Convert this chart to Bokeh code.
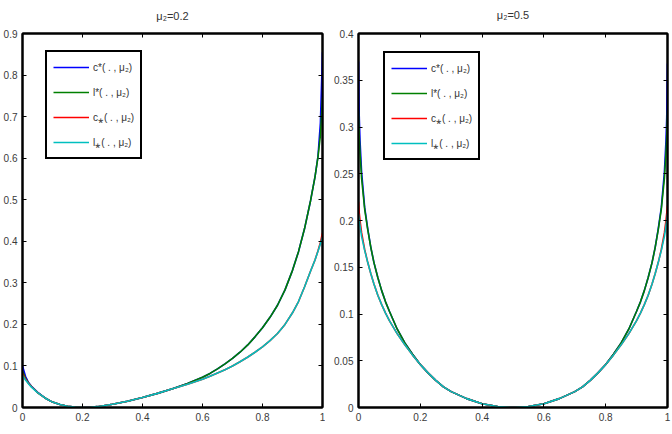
from bokeh.plotting import figure
from bokeh.models import (Range1d, LinearAxis, FixedTicker, CustomJSTickFormatter,
                          Legend, LegendItem, Title)
from bokeh.layouts import row
from bokeh.embed import file_html
from bokeh.resources import INLINE

# ---------------- data: mu2 = 0.2 ----------------
x_a = [0, 0.01, 0.02, 0.03, 0.05, 0.075, 0.1, 0.125, 0.15, 0.175, 0.2, 0.225, 0.25,
       0.3, 0.35, 0.4, 0.45, 0.5, 0.55, 0.6, 0.625, 0.65, 0.675, 0.7, 0.725, 0.75, 0.775,
       0.8, 0.825, 0.85, 0.875, 0.9, 0.92, 0.94, 0.96, 0.975, 0.985, 0.993, 1.0]
c_up_a = [0.1, 0.075, 0.06, 0.051, 0.037, 0.023, 0.013, 0.007, 0.003, 0.001, 0.0, 0.0005, 0.002,
          0.008, 0.015, 0.024, 0.034, 0.045, 0.058, 0.073, 0.082, 0.093, 0.105, 0.118, 0.133,
          0.15, 0.17, 0.192, 0.217, 0.246, 0.283, 0.33, 0.375, 0.43, 0.497, 0.555, 0.605,
          0.685, 0.855]
l_up_a = [0.088, 0.07, 0.059, 0.05, 0.036, 0.023, 0.013, 0.007, 0.003, 0.001, 0.0, 0.0005, 0.002,
          0.008, 0.015, 0.024, 0.034, 0.045, 0.058, 0.073, 0.082, 0.093, 0.105, 0.118, 0.133,
          0.15, 0.17, 0.192, 0.217, 0.246, 0.283, 0.33, 0.375, 0.43, 0.497, 0.555, 0.603,
          0.655, 0.745]
c_lo_a = [0.082, 0.068, 0.058, 0.05, 0.036, 0.023, 0.013, 0.007, 0.003, 0.001, 0.0, 0.0005, 0.002,
          0.008, 0.015, 0.024, 0.034, 0.045, 0.056, 0.068, 0.075, 0.083, 0.091, 0.1, 0.11,
          0.121, 0.133, 0.146, 0.161, 0.178, 0.2, 0.228, 0.255, 0.29, 0.328, 0.355, 0.377,
          0.397, 0.42]
l_lo_a = [0.078, 0.066, 0.057, 0.049, 0.036, 0.023, 0.013, 0.007, 0.003, 0.001, 0.0, 0.0005, 0.002,
          0.008, 0.015, 0.024, 0.034, 0.045, 0.056, 0.068, 0.075, 0.083, 0.091, 0.1, 0.11,
          0.121, 0.133, 0.146, 0.161, 0.178, 0.2, 0.228, 0.255, 0.29, 0.328, 0.355, 0.376,
          0.394, 0.41]

# ---------------- data: mu2 = 0.5 ----------------
x_b = [0, 0.0025, 0.005, 0.01, 0.02, 0.03, 0.04, 0.05, 0.0625, 0.075, 0.0875, 0.1, 0.125,
       0.15, 0.175, 0.2, 0.225, 0.25, 0.275, 0.3, 0.35, 0.4, 0.45, 0.5, 0.55, 0.6, 0.65,
       0.7, 0.725, 0.75, 0.775, 0.8, 0.825, 0.85, 0.875, 0.9, 0.9125, 0.925, 0.9375, 0.95,
       0.96, 0.97, 0.98, 0.99, 0.995, 0.9975, 1.0]
c_up_b = [0.37, 0.31, 0.285, 0.252, 0.214, 0.191, 0.171, 0.155, 0.139, 0.125, 0.113, 0.103,
          0.084, 0.069, 0.057, 0.046, 0.037, 0.029, 0.022, 0.017, 0.0095, 0.004, 0.001, 0.0,
          0.001, 0.004, 0.0095, 0.017, 0.022, 0.029, 0.037, 0.046, 0.057, 0.069, 0.084, 0.103,
          0.113, 0.125, 0.139, 0.155, 0.171, 0.191, 0.214, 0.252, 0.285, 0.31, 0.368]
l_up_b = [0.318, 0.29, 0.272, 0.245, 0.212, 0.19, 0.171, 0.155, 0.139, 0.125, 0.113, 0.103,
          0.084, 0.069, 0.057, 0.046, 0.037, 0.029, 0.022, 0.017, 0.0095, 0.004, 0.001, 0.0,
          0.001, 0.004, 0.0095, 0.017, 0.022, 0.029, 0.037, 0.046, 0.057, 0.069, 0.084, 0.103,
          0.113, 0.125, 0.139, 0.155, 0.171, 0.19, 0.212, 0.245, 0.272, 0.29, 0.318]
c_lo_b = [0.22, 0.208, 0.2, 0.187, 0.169, 0.155, 0.143, 0.132, 0.12, 0.11, 0.101, 0.093,
          0.079, 0.067, 0.056, 0.046, 0.037, 0.029, 0.022, 0.017, 0.0095, 0.004, 0.001, 0.0,
          0.001, 0.004, 0.0095, 0.017, 0.022, 0.029, 0.037, 0.046, 0.056, 0.067, 0.079, 0.093,
          0.101, 0.11, 0.12, 0.132, 0.143, 0.155, 0.169, 0.187, 0.2, 0.208, 0.216]
l_lo_b = [0.207, 0.2, 0.194, 0.183, 0.168, 0.155, 0.143, 0.132, 0.12, 0.11, 0.101, 0.093,
          0.079, 0.067, 0.056, 0.046, 0.037, 0.029, 0.022, 0.017, 0.0095, 0.004, 0.001, 0.0,
          0.001, 0.004, 0.0095, 0.017, 0.022, 0.029, 0.037, 0.046, 0.056, 0.067, 0.079, 0.093,
          0.101, 0.11, 0.12, 0.132, 0.143, 0.155, 0.168, 0.183, 0.194, 0.2, 0.207]

x_ticks = [0, 0.2, 0.4, 0.6, 0.8, 1]
y_ticks_a = [0, 0.1, 0.2, 0.3, 0.4, 0.5, 0.6, 0.7, 0.8, 0.9]
y_ticks_b = [0, 0.05, 0.1, 0.15, 0.2, 0.25, 0.3, 0.35, 0.4]

titles = ["μ₂=0.2", "μ₂=0.5"]
labels = ["c*( . , μ₂)", "l*( . , μ₂)", "c⁎( . , μ₂)", "l⁎( . , μ₂)"]
colors = ["#0000ff", "#008000", "#ff0000", "#00bfbf"]

FONT = "Liberation Sans"
fmt_code = "return String(Math.round(tick*1000)/1000)"


def make(title, xs, series, yt, ymax, width, bl, br, bt, leg_loc, spacer):
    p = figure(width=width, height=434, output_backend="svg", toolbar_location=None,
               x_range=Range1d(0, 1), y_range=Range1d(0, ymax), title=None,
               min_border_left=bl, min_border_right=br, min_border_top=bt,
               min_border_bottom=27, x_axis_location=None, y_axis_location=None)
    p.background_fill_color = "white"
    p.border_fill_color = "white"
    p.grid.visible = False
    p.outline_line_color = "black"
    p.outline_line_width = 2

    def ax(loc, ticks, show, standoff):
        a = LinearAxis(ticker=FixedTicker(ticks=ticks))
        a.formatter = CustomJSTickFormatter(code=fmt_code if show else "return ''")
        a.major_tick_in = 4
        a.major_tick_out = 0
        a.minor_tick_line_color = None
        a.axis_line_color = "black"
        a.axis_line_width = 2
        a.major_tick_line_color = "black"
        a.major_label_text_font = FONT
        a.major_label_text_font_size = "10px"
        a.major_label_text_color = "#3a3a3a"
        a.major_label_standoff = standoff
        p.add_layout(a, loc)

    ax("below", x_ticks, True, 5)
    ax("left", yt, True, 5)
    ax("above", x_ticks, False, 0)
    ax("right", yt, False, 0)

    # spacer between frame and title, then the title itself (outermost)
    p.add_layout(Title(text=" ", text_font_size=spacer, standoff=0), "above")
    p.add_layout(Title(text=title, align="center", text_font=FONT, text_font_size="11px",
                       text_font_style="normal", text_color="#333333"), "above")

    items = []
    for lab, col, ys in zip(labels, colors, series):
        r = p.line(xs, ys, line_color=col, line_width=1.6)
        items.append(LegendItem(label=lab, renderers=[r]))
    leg = Legend(items=items, location=leg_loc)
    leg.border_line_color = "black"
    leg.border_line_alpha = 1
    leg.border_line_width = 2
    leg.padding = 6
    leg.spacing = 7
    leg.margin = 0
    leg.glyph_width = 36
    leg.glyph_height = 18
    leg.label_height = 18
    leg.label_standoff = 4
    leg.label_text_font = FONT
    leg.label_text_font_size = "10px"
    leg.label_text_color = "#333333"
    leg.background_fill_alpha = 1
    p.add_layout(leg, "center")
    return p


p1 = make(titles[0], x_a, [c_up_a, l_up_a, c_lo_a, l_lo_a], y_ticks_a, 0.9,
          325, 22, 3, 31, (23, 248), "4px")
p2 = make(titles[1], x_b, [c_up_b, l_up_b, c_lo_b, l_lo_b], y_ticks_b, 0.4,
          347, 33, 5, 33, (25, 247), "6px")

layout = row(p1, p2)
open("out.html", "w").write(file_html(layout, INLINE))
